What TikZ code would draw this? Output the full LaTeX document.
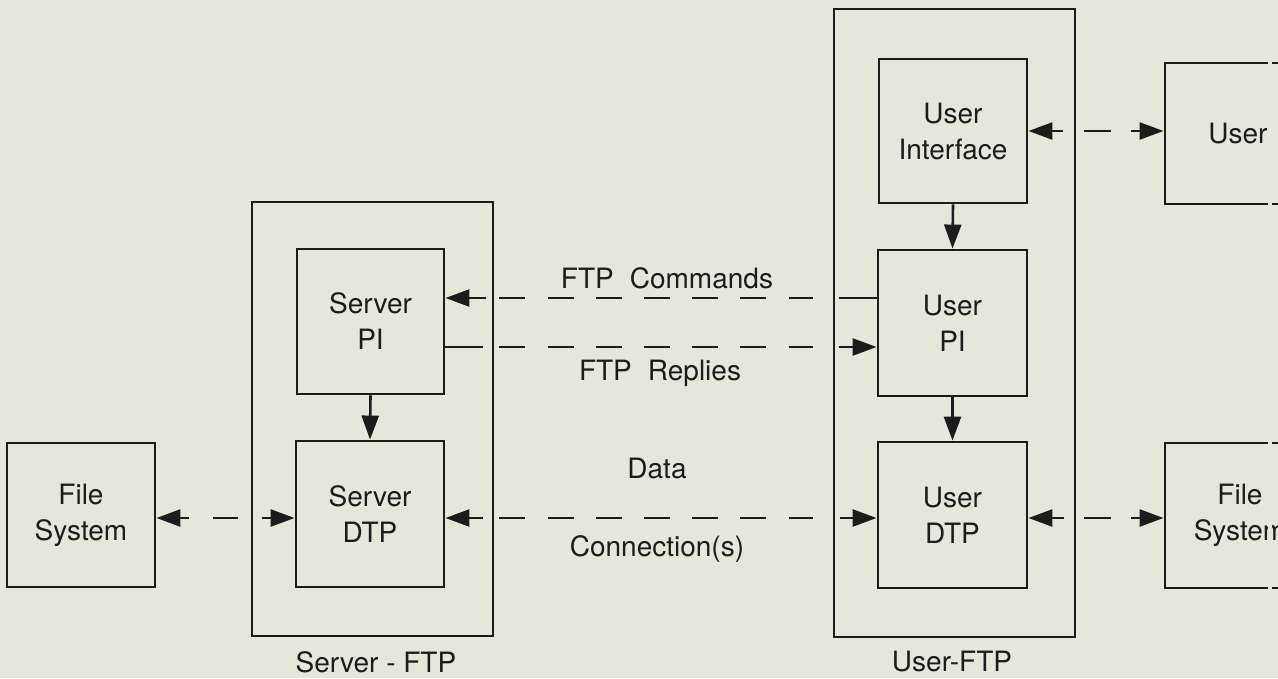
\documentclass[tikz,border=0pt]{standalone}
\usepackage{fontspec}
\setmainfont{TeX Gyre Heros}
\usetikzlibrary{arrows.meta}
\definecolor{bg}{RGB}{229,231,219}
\definecolor{ink}{RGB}{28,28,28}
\begin{document}
\begin{tikzpicture}[x=1pt,y=-1pt,
  box/.style={draw=ink, line width=2.9pt, inner sep=0pt, text=ink, align=center,
    font=\fontsize{28}{36}\selectfont},
  outer/.style={draw=ink, line width=2.9pt, inner sep=0pt},
  lbl/.style={text=ink, inner sep=0pt, font=\fontsize{28}{36}\selectfont, align=center},
  arr/.style={draw=ink, line width=2.6pt, -{Triangle[length=24pt,width=17pt]}},
  plain/.style={draw=ink, line width=2.6pt},
  dsh/.style={draw=ink, line width=2.6pt, dash pattern=on 26pt off 22.2pt}
]
\fill[bg] (0,0) rectangle (1278,678);
\useasboundingbox (0,0) rectangle (1278,678);

% outer boxes
\node[outer, minimum width=241pt, minimum height=434pt] (sftp) at (372.5,419) {};
\node[outer, minimum width=241pt, minimum height=628pt] (uftp) at (954.5,323) {};
\node[lbl] (sftpl) at (376,662) {Server - FTP};
\node[lbl] (uftpl) at (952,662) {User-FTP};

% inner boxes
\node[box, minimum width=147pt, minimum height=145pt] (spi) at (370.5,321.5) {Server\\PI};
\node[box, minimum width=148pt, minimum height=146pt] (sdtp) at (370,514) {Server\\DTP};
\node[box, minimum width=148pt, minimum height=144pt] (fsl) at (81,515) {File\\System};
\node[box, minimum width=148pt, minimum height=144pt] (ui) at (953,131) {User\\Interface};
\node[box, minimum width=149pt, minimum height=146pt] (upi) at (952.5,323) {User\\PI};
\node[box, minimum width=149pt, minimum height=146pt] (udtp) at (952.5,515) {User\\DTP};
\node[box, minimum width=146pt, minimum height=141pt] (user) at (1238,133.5) {User};
\node[box, minimum width=150pt, minimum height=145pt] (fsr) at (1240,515.5) {File\\System};

% reference rows
\coordinate (yu) at (0,131);
\coordinate (yc) at (0,298);
\coordinate (yr) at (0,347);
\coordinate (yd) at (0,518);

% vertical arrows
\draw[arr] (ui.south) -- (upi.north);
\draw[arr] (upi.south) -- (udtp.north);
\draw[arr] (spi.south) -- (sdtp.north);

% File System (left) <-> Server DTP
\draw[arr] (fsl.east |- yd) ++(33,0) -- (fsl.east |- yd);
\draw[plain] (fsl.east |- yd) ++(57,0) -- ++(25,0);
\draw[arr] (sdtp.west |- yd) ++(-33,0) -- (sdtp.west |- yd);

% Data connection
\draw[arr] (sdtp.east |- yd) ++(38,0) -- (sdtp.east |- yd);
\draw[dsh] (sdtp.east |- yd) ++(54,0) -- ([xshift=-64]udtp.west |- yd);
\draw[arr] (udtp.west |- yd) ++(-37,0) -- (udtp.west |- yd);

% FTP Commands
\draw[arr] (spi.east |- yc) ++(41,0) -- (spi.east |- yc);
\draw[dsh] (spi.east |- yc) ++(54,0) -- ([xshift=-64]upi.west |- yc);
\draw[plain] (upi.west |- yc) -- ++(-38,0);

% FTP Replies
\draw[plain] (spi.east |- yr) -- ++(38,0);
\draw[dsh] (spi.east |- yr) ++(54,0) -- ([xshift=-64]upi.west |- yr);
\draw[arr] (upi.west |- yr) ++(-38,0) -- (upi.west |- yr);

% User Interface <-> User
\draw[arr] (ui.east |- yu) ++(35,0) -- (ui.east |- yu);
\draw[plain] (ui.east |- yu) ++(56,0) -- ++(27,0);
\draw[arr] (user.west |- yu) ++(-33,0) -- (user.west |- yu);

% User DTP <-> File System (right)
\draw[arr] (udtp.east |- yd) ++(36,0) -- (udtp.east |- yd);
\draw[plain] (udtp.east |- yd) ++(56,0) -- ++(27,0);
\draw[arr] (fsr.west |- yd) ++(-33,0) -- (fsr.west |- yd);

% labels on the links
\node[lbl] (cmd) at (667,278) {FTP\hspace{16pt}Commands};
\node[lbl] (rep) at (660,373) {FTP\hspace{16pt}Replies};
\node[lbl] (dat) at (657,468) {Data};
\node[lbl] (con) at (657,549) {Connection(s)};

% light strip at the cut edge of the page
\fill[bg] (1268,0) rectangle (1272,678);
\end{tikzpicture}
\end{document}
